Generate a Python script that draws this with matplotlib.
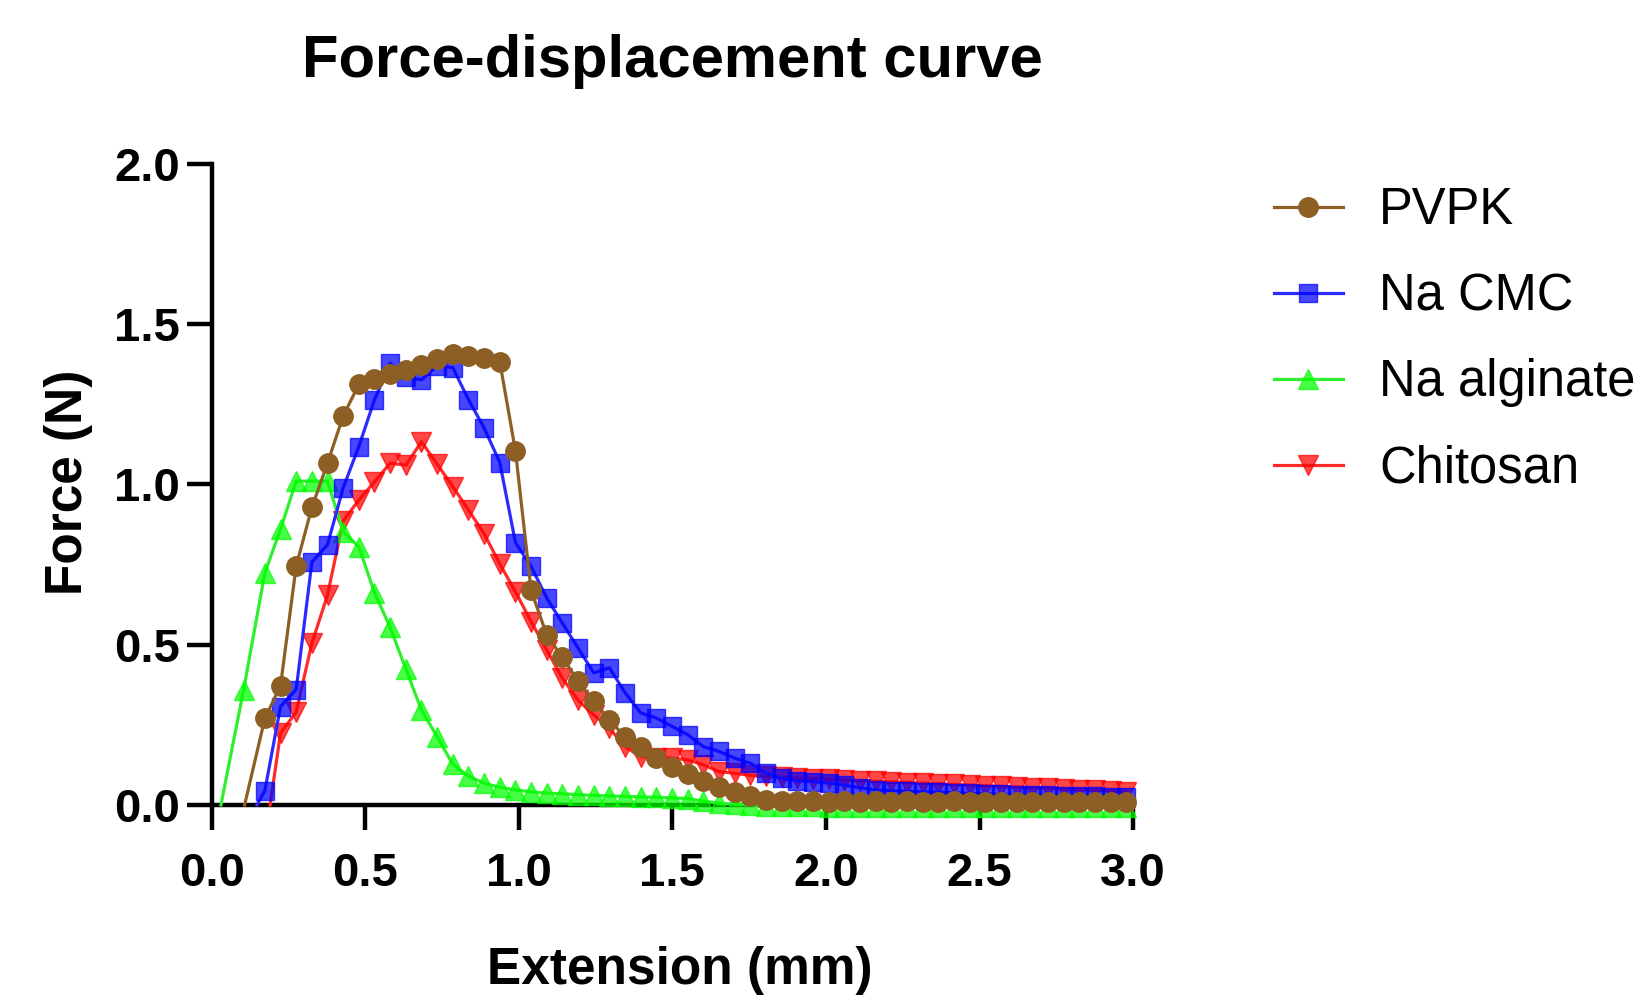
import matplotlib
matplotlib.use("Agg")
import matplotlib.pyplot as plt

plt.rcParams['font.family'] = ['Liberation Sans', 'DejaVu Sans']

# common sampling grid of the extension (mm)
grid = [0.173, 0.224, 0.275, 0.326, 0.377, 0.428, 0.479, 0.530, 0.581, 0.632,
        0.683, 0.734, 0.785, 0.836, 0.887, 0.938, 0.989, 1.040, 1.091, 1.142,
        1.193, 1.244, 1.295, 1.346, 1.397, 1.448, 1.499, 1.550, 1.601, 1.652,
        1.703, 1.754, 1.805, 1.856, 1.907, 1.958, 2.009, 2.060, 2.111, 2.162,
        2.213, 2.264, 2.315, 2.366, 2.417, 2.468, 2.519, 2.570, 2.621, 2.672,
        2.723, 2.774, 2.825, 2.876, 2.927, 2.978]

# PVPK
pvpk_x = [0.107] + grid
pvpk_y = [0.0, 0.27, 0.372, 0.745, 0.928, 1.066, 1.213, 1.312, 1.329, 1.343, 1.357,
          1.371, 1.392, 1.407, 1.399, 1.394, 1.382, 1.104, 0.669, 0.530, 0.460,
          0.386, 0.323, 0.266, 0.211, 0.180, 0.146, 0.117, 0.097, 0.075, 0.055,
          0.040, 0.029, 0.014, 0.012, 0.011, 0.012, 0.010, 0.011, 0.010, 0.012,
          0.010, 0.011, 0.010, 0.010, 0.011, 0.010, 0.009, 0.010, 0.010, 0.009,
          0.010, 0.009, 0.010, 0.009, 0.009, 0.008]

# Na CMC
cmc_x = [0.147] + grid
cmc_y = [0.0, 0.045, 0.307, 0.360, 0.757, 0.812, 0.989, 1.118, 1.264, 1.377, 1.335,
         1.326, 1.370, 1.364, 1.264, 1.176, 1.068, 0.818, 0.744, 0.645, 0.567,
         0.489, 0.412, 0.428, 0.350, 0.287, 0.271, 0.245, 0.219, 0.182, 0.167,
         0.146, 0.130, 0.099, 0.083, 0.075, 0.073, 0.068, 0.062, 0.054, 0.047,
         0.045, 0.043, 0.041, 0.040, 0.038, 0.036, 0.035, 0.033, 0.032, 0.031,
         0.030, 0.029, 0.028, 0.027, 0.026, 0.025]

# Na alginate
alg_x = [0.030, 0.104] + grid
alg_y = [0.0, 0.360, 0.724, 0.860, 1.010, 1.010, 1.010, 0.852, 0.805, 0.662, 0.554,
         0.424, 0.296, 0.213, 0.127, 0.090, 0.068, 0.055, 0.047, 0.041, 0.037,
         0.035, 0.032, 0.030, 0.028, 0.027, 0.025, 0.024, 0.022, 0.020, 0.012,
         0.005, 0.002, 0.000, -0.002, -0.003, -0.004, -0.004, -0.005, -0.005,
         -0.005, -0.005, -0.005, -0.005, -0.005, -0.005, -0.005, -0.005, -0.005,
         -0.005, -0.005, -0.005, -0.005, -0.005, -0.005, -0.005, -0.005, -0.005]

# Chitosan
chi_x = [0.190] + grid[1:]
chi_y = [0.0, 0.224, 0.290, 0.504, 0.655, 0.886, 0.951, 1.008, 1.066, 1.060,
         1.133, 1.063, 0.993, 0.920, 0.846, 0.752, 0.665, 0.572, 0.483, 0.395,
         0.327, 0.281, 0.239, 0.182, 0.150, 0.148, 0.146, 0.141, 0.125, 0.104,
         0.099, 0.092, 0.089, 0.086, 0.084, 0.082, 0.080, 0.078, 0.076, 0.074,
         0.072, 0.070, 0.068, 0.066, 0.064, 0.062, 0.060, 0.058, 0.056, 0.054,
         0.052, 0.050, 0.048, 0.046, 0.044, 0.042]

labels = ["PVPK", "Na CMC", "Na alginate", "Chitosan"]
x_ticks = [0.0, 0.5, 1.0, 1.5, 2.0, 2.5, 3.0]
y_ticks = [0.0, 0.5, 1.0, 1.5, 2.0]

fig = plt.figure(figsize=(16.35, 9.97), dpi=100)
ax = fig.add_axes([0.1295, 0.1926, 0.5635, 0.6432])

series = [
    (pvpk_x, pvpk_y, 1, 5, dict(color='#8E5F24', marker='o', ms=14,
                               mfc='#8E5F24', mec='#8E5F24')),
    (cmc_x, cmc_y, 1, 4, dict(color='#2B2BFF', marker='s', ms=13,
                             mfc=(0.0, 0.0, 1.0, 0.72), mec=(0.0, 0.0, 1.0, 0.72))),
    (alg_x, alg_y, 1, 3, dict(color='#2EF02E', marker='^', ms=14,
                             mfc=(0.0, 1.0, 0.0, 0.72), mec=(0.0, 1.0, 0.0, 0.72))),
    (chi_x, chi_y, 1, 2, dict(color='#FF2B2B', marker='v', ms=14,
                             mfc=(1.0, 0.0, 0.0, 0.72), mec=(1.0, 0.0, 0.0, 0.72))),
]

for (xs, ys, start, z, st), lab in zip(series, labels):
    ax.plot(xs, ys, lw=2.3, markevery=list(range(start, len(xs))),
            clip_on=False, label=lab, zorder=z, **st)

ax.set_xlim(0, 3.0)
ax.set_ylim(0, 2.0)
ax.set_xticks(x_ticks)
ax.set_yticks(y_ticks)
ax.set_xticklabels([f"{v:.1f}" for v in x_ticks])
ax.set_yticklabels([f"{v:.1f}" for v in y_ticks])

for s in ['top', 'right']:
    ax.spines[s].set_visible(False)
for s in ['left', 'bottom']:
    ax.spines[s].set_linewidth(3.2)
    ax.spines[s].set_zorder(1.5)

ax.tick_params(axis='both', which='major', length=18, width=3.2,
               labelsize=34)
ax.tick_params(axis='x', pad=16)
ax.tick_params(axis='y', pad=5)
for lab in ax.get_xticklabels() + ax.get_yticklabels():
    lab.set_fontweight('bold')

fig.text(0.416, 0.027, "Extension (mm)", fontsize=37, fontweight='bold',
         ha='center', va='center')
fig.text(0.042, 0.516, "Force (N)", fontsize=37, fontweight='bold',
         ha='center', va='center', rotation=90)
fig.text(0.411, 0.938, "Force-displacement curve", fontsize=43,
         fontweight='bold', ha='center', va='center')

leg = ax.legend(loc='upper left', bbox_to_anchor=(0.779, 0.813),
                bbox_transform=fig.transFigure, frameon=False, fontsize=36.5,
                handlelength=1.36, handletextpad=0.72, labelspacing=0.73,
                borderaxespad=0, borderpad=0)

fig.savefig("out.png", dpi=100)
